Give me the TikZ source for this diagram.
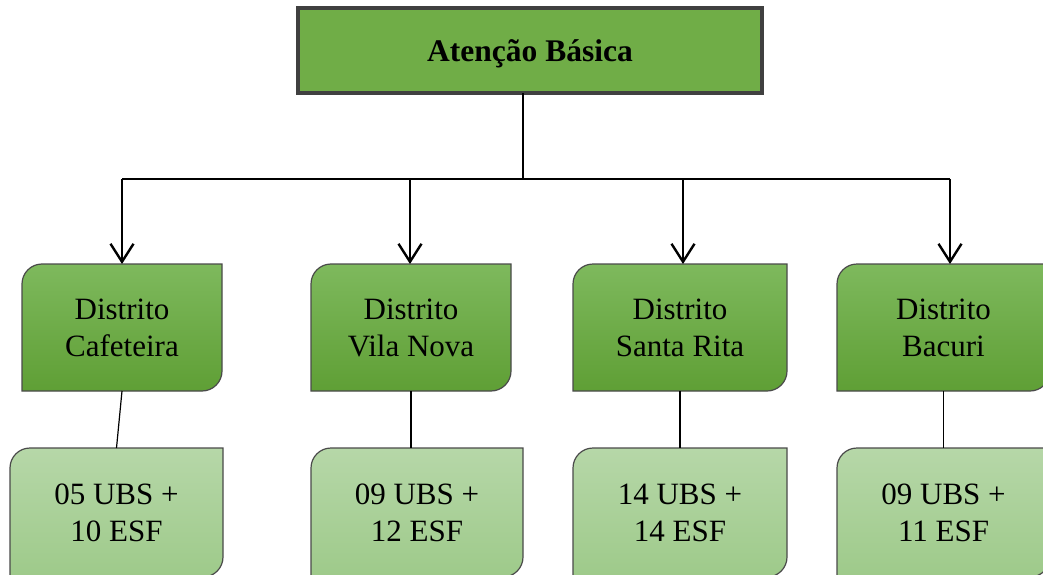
\documentclass[tikz,border=0pt]{standalone}
\usepackage{fontspec}
\setmainfont{Liberation Serif}
\usetikzlibrary{arrows.meta,calc,backgrounds}
\definecolor{titlefill}{HTML}{70AD47}
\definecolor{titleborder}{HTML}{404040}
\definecolor{dtop}{HTML}{7EB95D}
\definecolor{dbot}{HTML}{5F9F35}
\definecolor{ltop}{HTML}{B6D7A8}
\definecolor{lbot}{HTML}{9ECA8A}
\definecolor{edge}{HTML}{4A4A4A}
\tikzset{
  txt/.style={font=\fontsize{31}{37}\selectfont, align=center, inner sep=0pt, outer sep=0pt},
  titlebox/.style={txt, font=\fontsize{31.5}{37}\selectfont\bfseries, draw=titleborder, line width=4pt, fill=titlefill, minimum width=464pt, minimum height=85pt, text height=30pt, text depth=7pt},
  distbox/.style={txt, minimum height=127pt},
  unitbox/.style={txt, minimum height=129pt},
  darkshade/.style={draw=edge, line width=1.2pt, top color=dtop, bottom color=dbot},
  lightshade/.style={draw=edge, line width=1.2pt, top color=ltop, bottom color=lbot},
  link/.style={line width=1.2pt, black},
  arrowlink/.style={line width=2.4pt, black, -{Straight Barb[length=18pt,width=23pt]}}
}
\newcommand\cornerbox[2]{%
  \path[#2] (#1.south west) -- ($(#1.north west)+(0,-20)$) arc[start angle=180,end angle=90,radius=20]
    -- (#1.north east) -- ($(#1.south east)+(0,20)$) arc[start angle=0,end angle=-90,radius=20] -- cycle;}
\begin{document}
\begin{tikzpicture}[x=1pt,y=1pt]
\useasboundingbox (0,0) rectangle (1043,574);
\clip (0,0) rectangle (1043,574);

\node[titlebox] (top) at (530,523.5) {Atenção Básica};

\node[distbox, minimum width=200pt] (d1) at (122,246.5) {Distrito\\Cafeteira};
\node[distbox, minimum width=200pt] (d2) at (411,246.5) {Distrito\\Vila Nova};
\node[distbox, minimum width=214pt] (d3) at (680,246.5) {Distrito\\Santa Rita};
\node[distbox, minimum width=213pt] (d4) at (943.5,246.5) {Distrito\\Bacuri};

\node[unitbox, minimum width=213pt] (b1) at (116.5,61.5) {05 UBS +\\10 ESF};
\node[unitbox, minimum width=212pt] (b2) at (417,61.5) {09 UBS +\\12 ESF};
\node[unitbox, minimum width=214pt] (b3) at (680,61.5) {14 UBS +\\14 ESF};
\node[unitbox, minimum width=213pt] (b4) at (943.5,61.5) {09 UBS +\\11 ESF};

\begin{scope}[on background layer]
  \foreach \n in {d1,d2,d3,d4} {\cornerbox{\n}{darkshade}}
  \foreach \n in {b1,b2,b3,b4} {\cornerbox{\n}{lightshade}}
\end{scope}

\coordinate (stem) at ([xshift=-7pt]top.south);
\coordinate (a1) at (122,395);
\coordinate (a2) at (410,395);
\coordinate (a3) at (683,395);
\coordinate (a4) at (950,395);

\draw[link] (stem) -- (stem |- a1);
\draw[link] (a1) -- (a4);
\draw[arrowlink] (a1) -- (a1 |- d1.north);
\draw[arrowlink] (a2) -- (a2 |- d2.north);
\draw[arrowlink] (a3) -- (a3 |- d3.north);
\draw[arrowlink] (a4) -- (a4 |- d4.north);

\draw[link] (d1.south) -- (b1.north);
\draw[link] (d2.south) -- (d2.south |- b2.north);
\draw[link] (d3.south) -- (b3.north);
\draw[link] (d4.south) -- (b4.north);
\end{tikzpicture}
\end{document}
